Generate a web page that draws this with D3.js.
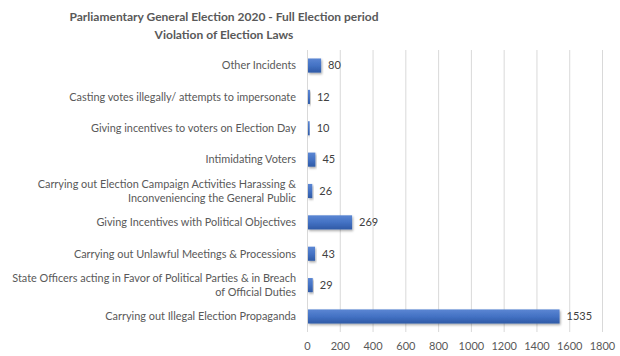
<!DOCTYPE html>
<html>
<head>
<meta charset="utf-8">
<script src="https://cdn.jsdelivr.net/npm/d3@7"></script>
<style>
  body { margin: 0; background: #fff; }
  text { font-family: Lato, "Open Sans", sans-serif; }
</style>
</head>
<body>
<div id="chart"></div>
<script>
// categories listed top to bottom as they appear
var categories = [
    'Other Incidents',
    'Casting votes illegally/ attempts to impersonate',
    'Giving incentives to voters on Election Day',
    'Intimidating Voters',
    'Carrying out Election Campaign Activities Harassing &|Inconveniencing the General Public',
    'Giving Incentives with Political Objectives',
    'Carrying out Unlawful Meetings & Processions',
    'State Officers acting in Favor of Political Parties & in Breach|of Official Duties',
    'Carrying out Illegal Election Propaganda'
]
var values = [80, 12, 10, 45, 26, 269, 43, 29, 1535]
var ticks = [0, 200, 400, 600, 800, 1000, 1200, 1400, 1600, 1800]
var titleLines = ['Parliamentary General Election 2020 - Full Election period', 'Violation of Election Laws']

var width = 620,
    height = 356,
    margins = {top: 50, right: 18, bottom: 24, left: 307}

var svg = d3.select('#chart').append('svg')
    .attr('width', width)
    .attr('height', height)

var defs = svg.append('defs')
var grad = defs.append('linearGradient')
    .attr('id', 'barfill')
    .attr('x1', 0).attr('y1', 0).attr('x2', 0).attr('y2', 1)
grad.append('stop').attr('offset', '0%').attr('stop-color', '#5b86d3')
grad.append('stop').attr('offset', '50%').attr('stop-color', '#4472c4')
grad.append('stop').attr('offset', '100%').attr('stop-color', '#2f5aa6')

var shadow = defs.append('filter').attr('id', 'shadow')
    .attr('x', '-10%').attr('y', '-20%').attr('width', '130%').attr('height', '160%')
shadow.append('feDropShadow')
    .attr('dx', 1).attr('dy', 1.5).attr('stdDeviation', 1)
    .attr('flood-color', '#000').attr('flood-opacity', 0.35)

var x = d3.scaleLinear()
    .domain([0, 1800])
    .range([margins.left, width - margins.right])

var y = d3.scaleBand()
    .domain(categories)
    .range([margins.top, height - margins.bottom])
    .paddingInner(0.55)
    .paddingOuter(0.27)

// title
svg.append('g').selectAll('text')
    .data(titleLines)
    .enter().append('text')
    .attr('x', 224)
    .attr('y', function(d, i) { return 21 + i * 18 })
    .attr('text-anchor', 'middle')
    .attr('font-size', 12)
    .attr('font-weight', 'bold')
    .attr('fill', '#595959')
    .text(function(d) { return d })

// gridlines
svg.append('g')
    .selectAll('line')
    .data(ticks)
    .enter().append('line')
    .attr('x1', function(d) { return x(d) + .5 })
    .attr('x2', function(d) { return x(d) + .5 })
    .attr('y1', margins.top)
    .attr('y2', height - margins.bottom)
    .attr('stroke', '#d9d9d9')
    .attr('stroke-width', 1)

// x axis
var xAxis = svg.append('g')
    .attr('transform', 'translate(0,' + (height - margins.bottom) + ')')
    .call(d3.axisBottom(x).tickValues(ticks).tickFormat(d3.format('d')).tickSize(0).tickPadding(10))
xAxis.select('.domain').remove()
xAxis.selectAll('text')
    .attr('font-size', 11)
    .attr('fill', '#595959')
    .style('font-family', 'Lato, sans-serif')

// bars
svg.append('g')
    .selectAll('rect')
    .data(values)
    .enter().append('rect')
    .attr('x', x(0) + 1)
    .attr('y', function(d, i) { return y(categories[i]) })
    .attr('width', function(d) { return x(d) - x(0) })
    .attr('height', y.bandwidth())
    .attr('fill', 'url(#barfill)')
    .attr('filter', 'url(#shadow)')

// value labels
svg.append('g')
    .selectAll('text')
    .data(values)
    .enter().append('text')
    .attr('x', function(d) { return x(d) + 8 })
    .attr('y', function(d, i) { return y(categories[i]) + y.bandwidth() / 2 })
    .attr('dy', '0.35em')
    .attr('font-size', 11)
    .attr('fill', '#404040')
    .text(function(d) { return d })

// category labels (| marks a line break)
var labels = svg.append('g')
    .selectAll('text')
    .data(categories)
    .enter().append('text')
    .attr('text-anchor', 'end')
    .attr('font-size', 10.9)
    .attr('fill', '#595959')
    .attr('transform', function(d) {
        return 'translate(296,' + (y(d) + y.bandwidth() / 2) + ')'
    })

labels.each(function(d) {
    var lines = d.split('|'),
        el = d3.select(this)
    lines.forEach(function(line, i) {
        el.append('tspan')
            .attr('x', 0)
            .attr('y', (i - (lines.length - 1) / 2) * 14)
            .attr('dy', '0.35em')
            .text(line)
    })
})
</script>
</body>
</html>
